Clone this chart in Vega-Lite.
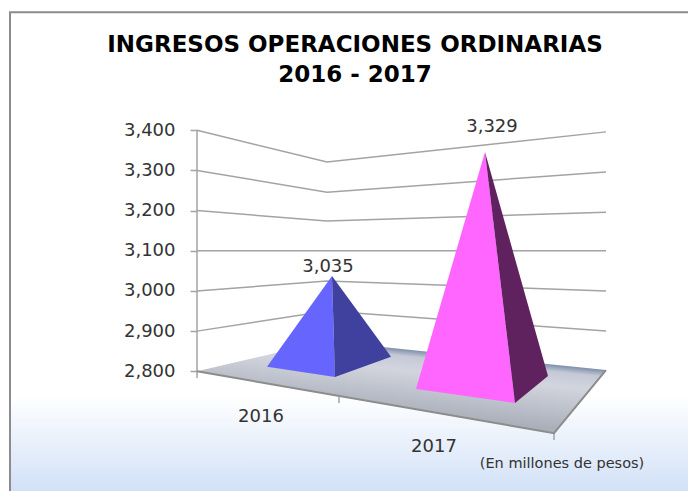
{"$schema":"https://vega.github.io/schema/vega-lite/v6.json","width":688,"height":491,"padding":0,"autosize":"none","background":"white","view":{"stroke":null},
"title":{"text":["INGRESOS OPERACIONES ORDINARIAS","2016 - 2017"],"anchor":"middle","frame":"group","offset":-105,"dx":11,"baseline":"alphabetic","font":"DejaVu Sans","fontWeight":"bold","fontSize":23,"lineHeight":30,"color":"#000000"},
"datasets":{
"frame":[{"part":"band","x":11,"x2":688,"value":2741,"value2":2502}],
"border":[{"order":1,"x":10,"value":2502},{"order":2,"x":10,"value":3694},{"order":3,"x":688,"value":3694}],
"grid":[
{"level":3400,"order":1,"x":197,"value":3400},{"level":3400,"order":2,"x":327,"value":3321},{"level":3400,"order":3,"x":606,"value":3396},
{"level":3300,"order":1,"x":197,"value":3300},{"level":3300,"order":2,"x":327,"value":3246},{"level":3300,"order":3,"x":606,"value":3296},
{"level":3200,"order":1,"x":197,"value":3200},{"level":3200,"order":2,"x":327,"value":3174},{"level":3200,"order":3,"x":606,"value":3196},
{"level":3100,"order":1,"x":197,"value":3100},{"level":3100,"order":2,"x":327,"value":3100},{"level":3100,"order":3,"x":606,"value":3100},
{"level":3000,"order":1,"x":197,"value":3000},{"level":3000,"order":2,"x":327,"value":3025},{"level":3000,"order":3,"x":606,"value":3000},
{"level":2900,"order":1,"x":197,"value":2900},{"level":2900,"order":2,"x":327,"value":2950},{"level":2900,"order":3,"x":606,"value":2900},
{"level":"wall","order":1,"x":197,"value":3400},{"level":"wall","order":2,"x":197,"value":2783},
{"level":"t1","order":1,"x":339,"value":2736},{"level":"t1","order":2,"x":339,"value":2721},
{"level":"t2","order":1,"x":554,"value":2646},{"level":"t2","order":2,"x":554,"value":2629}],
"edge":[{"order":1,"x":197,"value":2800},{"order":2,"x":554,"value":2646},{"order":3,"x":606,"value":2803}],
"faces":[
{"face":"floor","order":1,"x":197,"value":2800},{"face":"floor","order":2,"x":327,"value":2875},{"face":"floor","order":3,"x":606,"value":2803},{"face":"floor","order":4,"x":554,"value":2646},
{"face":"blueL","order":1,"x":332,"value":3037},{"face":"blueL","order":2,"x":267,"value":2811},{"face":"blueL","order":3,"x":335,"value":2786},
{"face":"blueR","order":1,"x":332,"value":3037},{"face":"blueR","order":2,"x":335,"value":2786},{"face":"blueR","order":3,"x":391,"value":2836},
{"face":"pinkL","order":1,"x":485,"value":3346},{"face":"pinkL","order":2,"x":416,"value":2756},{"face":"pinkL","order":3,"x":515,"value":2721},
{"face":"pinkR","order":1,"x":485,"value":3346},{"face":"pinkR","order":2,"x":515,"value":2721},{"face":"pinkR","order":3,"x":548,"value":2788}],
"labels":[{"label":"3,035","x":328,"value":3047},{"label":"3,329","x":492,"value":3396},{"label":"2016","x":261,"value":2674},{"label":"2017","x":434,"value":2599}],
"note":[{"label":"(En millones de pesos)","x":562,"value":2559}]
},
"encoding":{
"x":{"field":"x","type":"quantitative","scale":{"domain":[0,688],"nice":false,"zero":false},"axis":null},
"y":{"field":"value","type":"quantitative","scale":{"domain":[2502,3724.3],"nice":false,"zero":false},"axis":{"orient":"left","offset":-197,"values":[2800,2900,3000,3100,3200,3300,3400],"format":",d","title":null,"grid":false,"domain":false,"ticks":true,"tickSize":7,"tickColor":"#a3a3a3","tickWidth":1.5,"labelPadding":15,"labelFont":"DejaVu Sans","labelFontSize":18,"labelColor":"#333333"}}
},
"layer":[
{"data":{"name":"frame"},"mark":{"type":"rect","fill":{"gradient":"linear","x1":0,"y1":0,"x2":0,"y2":1,"stops":[{"offset":0,"color":"#ffffff"},{"offset":1,"color":"#d2e1f7"}]}},"encoding":{"x2":{"field":"x2"},"y2":{"field":"value2"}}},
{"data":{"name":"border"},"mark":{"type":"line","stroke":"#8c8c8c","strokeWidth":2},"encoding":{"order":{"field":"order"}}},
{"data":{"name":"grid"},"mark":{"type":"line","stroke":"#a3a3a3","strokeWidth":1.5},"encoding":{"detail":{"field":"level"},"order":{"field":"order"}}},
{"data":{"name":"faces"},"transform":[{"filter":"datum.face==='floor'"}],"mark":{"type":"line","strokeWidth":0,"fill":{"gradient":"linear","x1":0.659,"y1":0.157,"x2":0.374,"y2":0.774,"stops":[{"offset":0,"color":"#7d8faa"},{"offset":0.1,"color":"#c4c9d6"},{"offset":0.3,"color":"#d2d5de"},{"offset":1,"color":"#a6abb5"}]}},"encoding":{"order":{"field":"order"}}},
{"data":{"name":"edge"},"mark":{"type":"line","stroke":"#8c8c8c","strokeWidth":2},"encoding":{"order":{"field":"order"}}},
{"data":{"name":"faces"},"transform":[{"filter":"datum.face==='blueL'"}],"mark":{"type":"line","strokeWidth":0,"fill":"#6666ff"},"encoding":{"order":{"field":"order"}}},
{"data":{"name":"faces"},"transform":[{"filter":"datum.face==='blueR'"}],"mark":{"type":"line","strokeWidth":0,"fill":"#40409f"},"encoding":{"order":{"field":"order"}}},
{"data":{"name":"faces"},"transform":[{"filter":"datum.face==='pinkL'"}],"mark":{"type":"line","strokeWidth":0,"fill":"#ff66ff"},"encoding":{"order":{"field":"order"}}},
{"data":{"name":"faces"},"transform":[{"filter":"datum.face==='pinkR'"}],"mark":{"type":"line","strokeWidth":0,"fill":"#60215f"},"encoding":{"order":{"field":"order"}}},
{"data":{"name":"labels"},"mark":{"type":"text","font":"DejaVu Sans","fontSize":18,"color":"#333333","baseline":"alphabetic","align":"center"},"encoding":{"text":{"field":"label"}}},
{"data":{"name":"note"},"mark":{"type":"text","font":"DejaVu Sans","fontSize":14.5,"color":"#333333","baseline":"alphabetic","align":"center"},"encoding":{"text":{"field":"label"}}}
]}
